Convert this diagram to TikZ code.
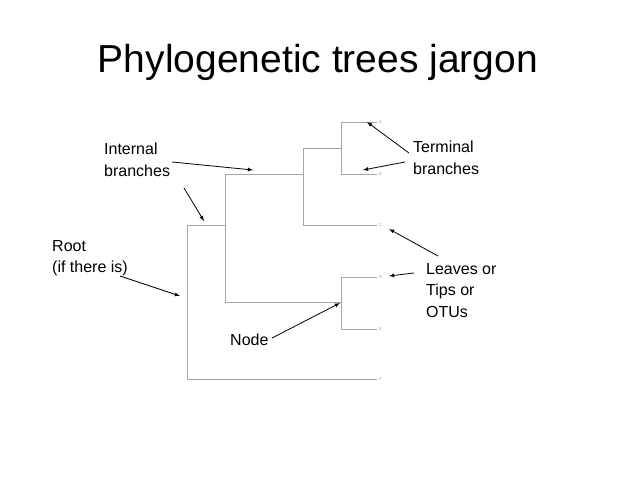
\documentclass[tikz,border=0pt]{standalone}
\usepackage{fontspec}
\setmainfont{Liberation Sans}
\begin{document}
\begin{tikzpicture}[x=1pt,y=-1pt,
  br/.style={draw=black!35,line width=0.9pt},
  lf/.style={font=\fontsize{4}{4}\selectfont,text=black!40,inner sep=1pt,anchor=west},
  lbl/.style={font=\fontsize{16}{21.5}\selectfont,align=left,inner sep=0pt},
  ar/.style={-latex,line width=0.8pt}]
\useasboundingbox (0,0) rectangle (638,479);
\node[font=\fontsize{39}{44}\selectfont] (title) at (318,62) {Phylogenetic trees jargon};
% tree
\draw[br] (187,225) -- (225,225);
\draw[br] (187,225) -- (187,379) -- (377,379);
\draw[br] (225,174) -- (225,302);
\draw[br] (225,174) -- (303,174);
\draw[br] (303,148) -- (303,225) -- (377,225);
\draw[br] (303,148) -- (341,148);
\draw[br] (341,122) -- (341,174);
\draw[br] (341,122) -- (377,122);
\draw[br] (341,174) -- (377,174);
\draw[br] (225,302) -- (341,302);
\draw[br] (341,277) -- (341,329);
\draw[br] (341,277) -- (377,277);
\draw[br] (341,329) -- (377,329);
\node[lf] (A) at (378,122) {A};
\node[lf] (B) at (378,174) {B};
\node[lf] (C) at (378,225) {C};
\node[lf] (D) at (378,277) {D};
\node[lf] (E) at (378,329) {E};
\node[lf] (F) at (378,379) {F};
\coordinate (pInt1) at (253,170);
\coordinate (pInt2) at (204,221);
\coordinate (pA) at (367,122);
\coordinate (pB) at (363,170);
\coordinate (pC) at (389,229);
\coordinate (pD) at (389,276);
\coordinate (pRoot) at (180,296);
\coordinate (pNode) at (340,303);
% labels
\node[lbl,anchor=north west] (int) at (104,143) {Internal\\branches};
\node[lbl,anchor=north west] (term) at (413,141) {Terminal\\branches};
\node[lbl,anchor=north west] (root) at (52,240) {Root\\(if there is)};
\node[lbl,anchor=north west] (leaves) at (426,263) {Leaves or\\Tips or\\OTUs};
\node[lbl,anchor=north west] (node) at (230,334) {Node};
\draw[ar] (172,162) -- (pInt1);
\draw[ar] (184,188) -- (pInt2);
\draw[ar] (409,153) -- (pA);
\draw[ar] (405,162) -- (pB);
\draw[ar] (438,256) -- (pC);
\draw[ar] (414,273) -- (pD);
\draw[ar] (120,276) -- (pRoot);
\draw[ar] (272,338) -- (pNode);
\end{tikzpicture}
\end{document}
